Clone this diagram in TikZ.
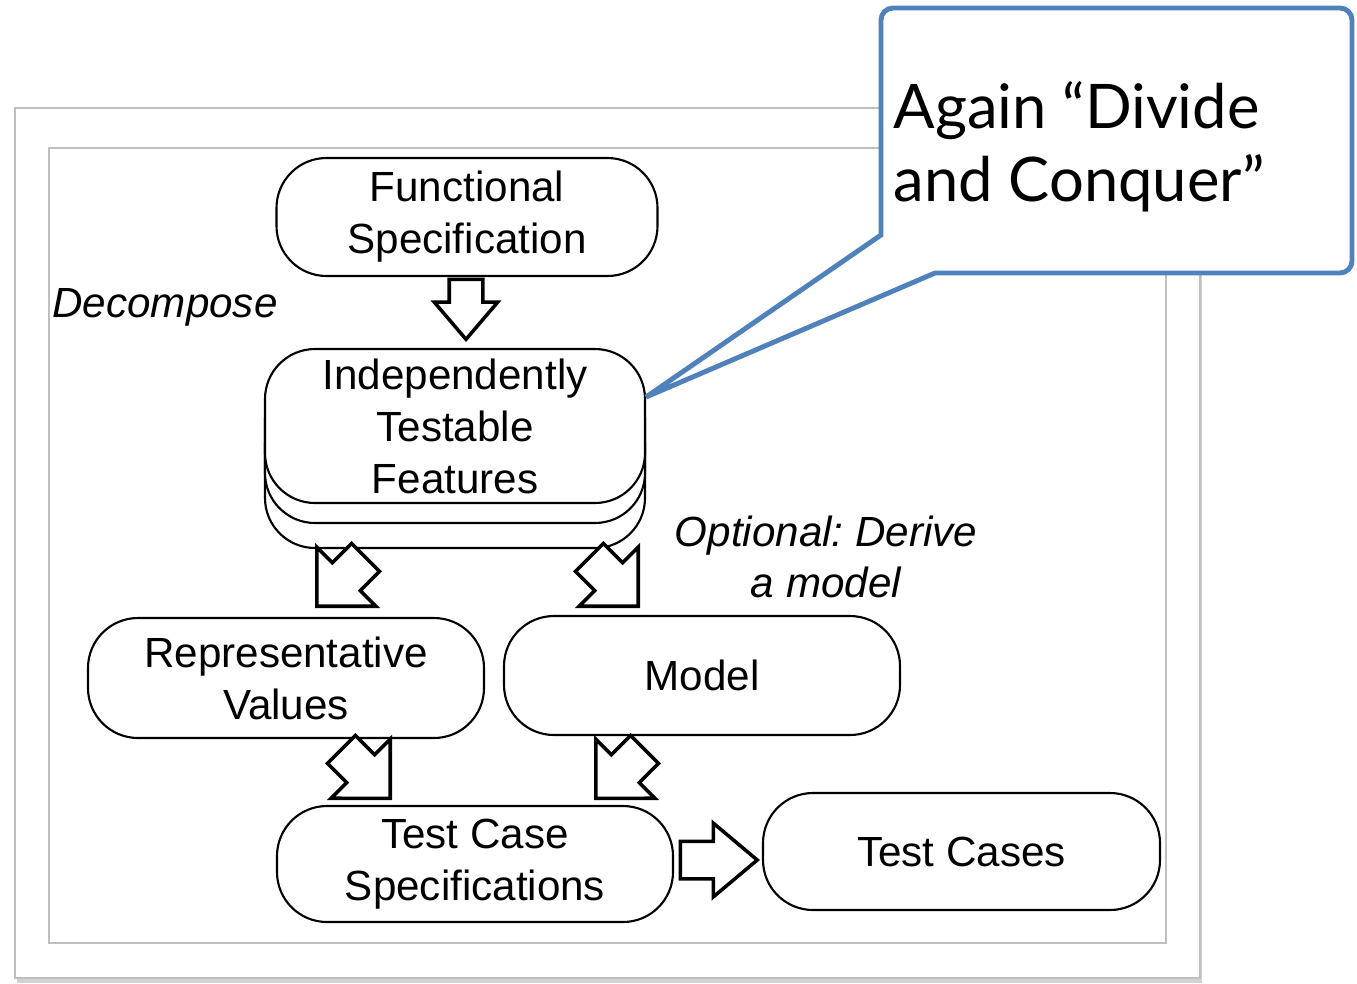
\documentclass[tikz,border=0pt]{standalone}
\usepackage{fontspec}
\setmainfont{Liberation Sans}
\newfontfamily\notefont{Lato}
\usetikzlibrary{shapes.arrows,shadows}
\definecolor{calloutblue}{RGB}{79,129,189}
\frenchspacing

\begin{document}
\begin{tikzpicture}[
  box/.style={draw, rectangle, rounded corners=5mm, fill=white, line width=0.6pt, align=center, inner sep=0pt, font=\fontsize{12}{14.8}\selectfont},
  blockarrow/.style={draw, single arrow, fill=white, line width=1pt, inner xsep=0pt, anchor=tip},
  remark/.style={align=center, font=\fontsize{12}{14.3}\selectfont\itshape},
  frame/.style={draw=black!25, line width=0.5pt}]

\useasboundingbox (0,0) rectangle (13.57,9.83);
\draw[frame, fill=white, drop shadow={shadow xshift=0.2mm, shadow yshift=-0.5mm, opacity=0.35}] (0.15,0.05) rectangle (12.00,8.75);
\draw[frame] (0.49,0.40) rectangle (11.66,8.35);

% process boxes
\node[box, minimum width=3.81cm, minimum height=1.18cm] (fs) at (4.67,7.66) {Functional\\Specification};
\node[box, minimum width=3.80cm, minimum height=1.54cm,
  general shadow={shadow yshift=-4.5mm, draw, fill=white, line width=0.6pt},
  general shadow={shadow yshift=-2mm, draw, fill=white, line width=0.6pt}] (itf) at (4.55,5.57) {Independently\\Testable\\Features};
\node[box, minimum width=3.96cm, minimum height=1.20cm] (rv) at (2.86,3.05) {Representative\\Values};
\node[box, minimum width=3.96cm, minimum height=1.19cm] (model) at (7.02,3.075) {Model};
\node[box, minimum width=3.96cm, minimum height=1.16cm] (tcs) at (4.75,1.19) {Test Case\\Specifications};
\node[box, minimum width=3.97cm, minimum height=1.17cm] (tc) at (9.615,1.315) {Test Cases};

% side labels
\node[remark] (decompose) at (1.65,6.76) {Decompose};
\node[remark] (derive) at (8.26,4.26) {Optional: Derive\\a model};

% block arrows
\node[blockarrow, rotate=-90, inner ysep=0.15cm, minimum height=0.60cm, single arrow head extend=0.15cm, single arrow tip angle=81] (a1) at (4.66,6.41) {};
\node[blockarrow, rotate=225, inner ysep=0.18cm, minimum height=0.69cm, single arrow head extend=0.22cm, single arrow tip angle=90] (a2) at (3.15,3.75) {};
\node[blockarrow, rotate=-45, inner ysep=0.18cm, minimum height=0.69cm, single arrow head extend=0.22cm, single arrow tip angle=90] (a3) at (6.40,3.75) {};
\node[blockarrow, rotate=-45, inner ysep=0.18cm, minimum height=0.69cm, single arrow head extend=0.22cm, single arrow tip angle=90] (a4) at (3.92,1.83) {};
\node[blockarrow, rotate=225, inner ysep=0.18cm, minimum height=0.69cm, single arrow head extend=0.22cm, single arrow tip angle=90] (a5) at (5.94,1.83) {};
\node[blockarrow, inner ysep=0.17cm, minimum height=0.77cm, single arrow head extend=0.18cm, single arrow tip angle=80] (a6) at (7.60,1.23) {};

% callout
\draw[calloutblue, line width=1.4pt, fill=white] ([yshift=2.9mm]itf.east) -- (9.35,7.10)
  [rounded corners=1.2mm] -- (13.52,7.10) -- (13.52,9.75) -- (8.81,9.75)
  [sharp corners] -- (8.81,7.48) -- cycle;
\node[anchor=west, align=left, inner sep=0pt, font=\notefont\fontsize{17.5}{20.8}\selectfont] (note) at (8.93,8.36) {Again “Divide\\and Conquer”};
\end{tikzpicture}
\end{document}
